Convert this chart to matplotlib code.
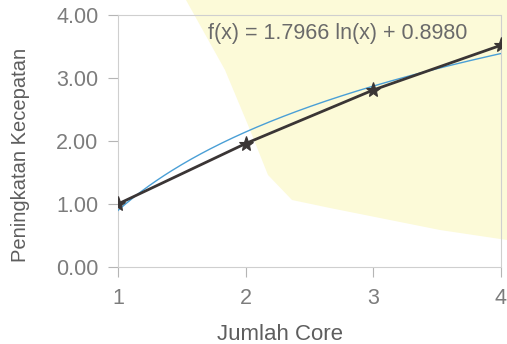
import numpy as np
import matplotlib
matplotlib.use("Agg")
import matplotlib.pyplot as plt
from matplotlib.patches import Polygon

plt.rcParams['font.family'] = ['Liberation Sans', 'DejaVu Sans']

# Speed-up measured for each core count
cores = [1, 2, 3, 4]
speedup = [1.00, 1.96, 2.81, 3.52]

# Logarithmic trend line f(x) = a ln(x) + b
trend_a = 1.7966
trend_b = 0.8980
trend_label = "f(x) = 1.7966 ln(x) + 0.8980"

y_ticks = [0.0, 1.0, 2.0, 3.0, 4.0]
y_ticklabels = ["0.00", "1.00", "2.00", "3.00", "4.00"]
x_ticks = [1, 2, 3, 4]
x_ticklabels = ["1", "2", "3", "4"]

W, H = 507, 344
fig = plt.figure(figsize=(W / 100, H / 100), dpi=100)
fig.patch.set_facecolor("white")


def px(pts):
    return [(x / W, 1 - y / H) for x, y in pts]


# pale yellow paper tint behind the chart
tint = Polygon(px([(186, 0), (507, 0), (507, 240), (440, 230), (380, 218),
                   (330, 208), (292, 200), (268, 175), (248, 125), (225, 70)]),
               closed=True, transform=fig.transFigure, facecolor="#fcfad8",
               edgecolor="none", zorder=-5)
fig.patches.append(tint)

ax = fig.add_axes([118 / W, 1 - 267 / H, (501 - 118) / W, (267 - 15) / H])
ax.set_facecolor("none")
ax.set_zorder(2)

xs = np.linspace(1, 4, 200)
ax.plot(xs, trend_a * np.log(xs) + trend_b, color="#4a9fd6", lw=1.0, zorder=3)
ax.plot(cores, speedup, color="#3a3535", lw=2.0, marker="*", markersize=11,
        markeredgewidth=0.8, zorder=4)

ax.set_xlim(1, 4)
ax.set_ylim(0, 4)
ax.set_xticks(x_ticks)
ax.set_xticklabels(x_ticklabels)
ax.set_yticks(y_ticks)
ax.set_yticklabels(y_ticklabels)

tick_col = "#7c7c7c"
ax.tick_params(axis="both", colors="#b5b5b5", labelcolor=tick_col,
               labelsize=15.5, length=7, width=0.8)
ax.tick_params(axis="y", pad=7)
ax.tick_params(axis="x", pad=8)

for s in ax.spines.values():
    s.set_color("#cfcfcf")
    s.set_linewidth(0.8)
    s.set_linestyle((0, (2, 1)))

fig.text(208 / W, 1 - 33 / H, trend_label, fontsize=15.5, color="#6a6a6a",
         va="center", ha="left", zorder=5)

fig.text(21 / W, 1 - 155 / H, "Peningkatan Kecepatan", rotation=90,
         ha="center", va="center", fontsize=14.5, color="#5e5e5e")
fig.text(280 / W, 1 - 334 / H, "Jumlah Core", ha="center", va="center",
         fontsize=16, color="#5e5e5e")

fig.savefig("out.png", dpi=100)
